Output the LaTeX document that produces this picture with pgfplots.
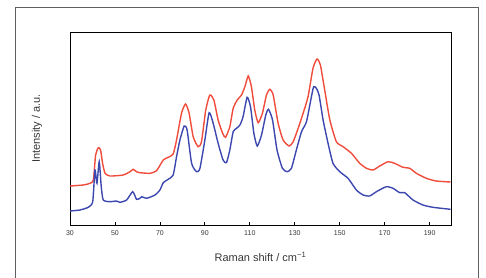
\documentclass[border=0pt]{standalone}
\usepackage{fontspec}
\setmainfont{Liberation Sans}
\usepackage{pgfplots}
\pgfplotsset{compat=1.18}
\definecolor{redc}{RGB}{240,76,60}
\definecolor{bluec}{RGB}{60,72,175}
\definecolor{txt}{RGB}{55,55,55}
\begin{document}
\begin{tikzpicture}
\draw[line width=0.8pt, color={rgb,255:red,95;green,95;blue,95}] (15pt,270pt) rectangle (478pt,-10pt);
\begin{axis}[
  at={(70pt,52pt)}, anchor=south west,
  scale only axis, width=381pt, height=193pt,
  xmin=30, xmax=199.5, ymin=0, ymax=193,
  axis line style={line width=1pt, black},
  xtick={30,50,...,190}, ytick=\empty,
  tick align=inside, xtick pos=bottom,
  major tick length=3pt,
  tick style={line width=0.8pt, black},
  /pgf/number format/assume math mode=true,
  ticklabel style={font=\fontsize{7}{8}\selectfont, text=txt},
  xticklabel style={yshift=-2pt},
  xlabel={Raman shift / cm\textsuperscript{−1}},
  ylabel={Intensity / a.u.},
  label style={font=\fontsize{11}{13}\selectfont, text=txt},
  xlabel style={at={([yshift=-32pt]axis description cs:0.5,0)}, anchor=center},
  ylabel style={at={([xshift=-33pt]axis description cs:0,0.5)}, anchor=center},
]
\addplot[redc, line width=1.4pt, smooth, tension=0.35] coordinates {
(30.0,39.0) (35.9,40.0) (38.9,41.7) (40.4,45.0) (41.4,70.0) (42.6,77.3) (43.6,75.0) (44.5,61.7) (45.6,51.7) (47.8,49.0)
(53.7,50.0) (56.7,53.3) (58.1,55.7) (59.6,53.3) (61.1,52.3) (65.6,51.7) (68.5,54.3) (71.5,65.0) (73.7,67.7) (75.9,71.0)
(77.4,85.0) (79.6,111.7) (81.4,121.0) (83.0,111.7) (84.8,88.3) (87.0,78.3) (88.5,83.3) (90.4,115.0) (92.2,130.0) (94.0,125.0)
(95.9,105.0) (97.9,91.7) (99.2,87.7) (101.1,98.3) (102.6,116.7) (104.4,125.0) (106.3,130.0) (107.8,138.3) (109.3,149.0) (110.7,138.3)
(112.2,115.0) (113.7,102.3) (115.6,111.7) (117.4,130.0) (118.9,135.7) (120.4,130.0) (122.6,101.7) (124.8,85.0) (127.5,79.0) (129.3,83.3)
(131.5,96.7) (133.7,111.7) (135.9,128.3) (138.1,156.7) (139.9,166.0) (141.4,160.0) (143.3,135.0) (145.6,105.0) (148.5,83.3) (151.5,78.3)
(155.2,71.7) (158.9,61.7) (161.9,56.7) (164.8,55.0) (167.8,59.0) (171.5,63.3) (174.4,61.7) (178.1,57.7) (181.1,56.7) (184.1,51.7)
(188.5,46.7) (192.9,44.0) (199.3,43.0)
};
\addplot[bluec, line width=1.4pt, smooth, tension=0.35] coordinates {
(30.0,14.0) (34.4,15.0) (38.1,17.7) (40.1,23.3) (41.1,55.0) (42.0,41.7) (43.0,63.3) (43.9,38.3) (44.8,25.0) (47.8,23.3)
(50.7,24.0) (52.2,22.7) (55.2,25.0) (57.9,33.3) (59.6,25.7) (61.1,26.7) (61.9,28.3) (64.1,26.7) (67.8,30.0) (70.0,35.0)
(71.5,42.3) (73.7,45.7) (75.9,50.0) (77.4,68.3) (78.9,85.0) (80.8,99.0) (82.1,95.0) (84.1,61.7) (86.3,53.3) (87.8,56.7)
(90.0,85.0) (91.9,112.3) (93.7,101.7) (95.9,81.7) (98.1,65.0) (99.6,62.3) (101.1,75.0) (102.6,93.3) (104.1,96.7) (105.6,100.0)
(107.0,108.3) (108.8,127.7) (110.3,118.3) (111.8,91.7) (113.3,79.0) (115.2,90.0) (117.1,110.0) (118.3,115.7) (120.1,105.0) (122.1,75.0)
(124.5,56.7) (126.6,53.3) (128.5,56.7) (130.7,75.0) (133.0,93.3) (135.2,103.3) (137.4,128.3) (138.4,138.3) (139.6,136.7) (140.8,130.0)
(142.6,105.0) (144.8,81.7) (147.0,61.7) (150.0,53.3) (153.7,46.7) (157.4,35.0) (160.4,30.0) (163.3,29.0) (166.3,33.3) (170.7,38.3)
(173.7,36.7) (176.7,32.3) (178.9,32.3) (182.6,25.0) (187.0,20.0) (191.5,17.7) (199.3,15.7)
};
\end{axis}
\pgfresetboundingbox
\useasboundingbox (0pt,0pt) rectangle (486pt,277pt);
\end{tikzpicture}
\end{document}
